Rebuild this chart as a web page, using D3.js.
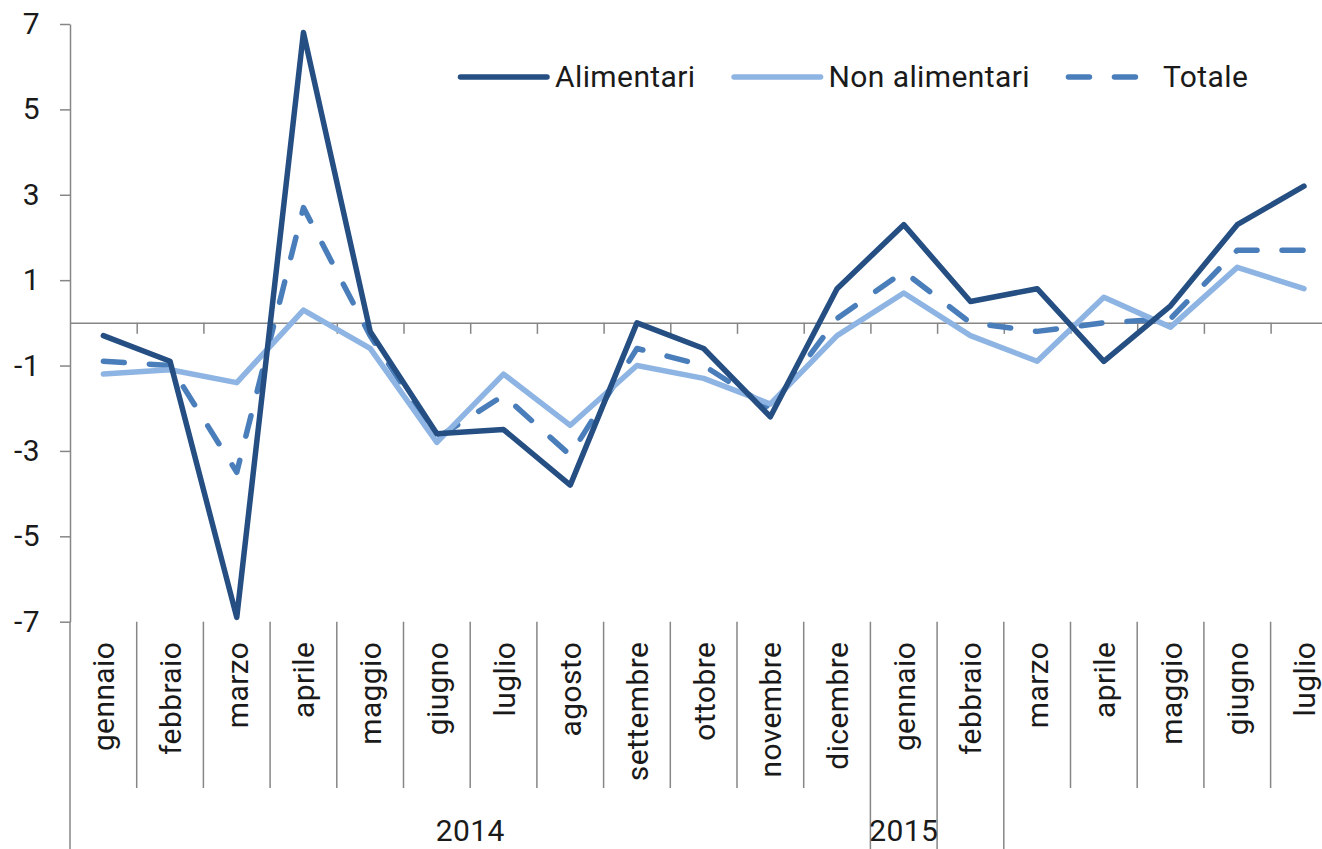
<!DOCTYPE html>
<html>
<head>
<meta charset="utf-8">
<script src="https://cdn.jsdelivr.net/npm/d3@7"></script>
<style>
  body { margin: 0; background: #fff; }
  text { font-family: Roboto, "Liberation Sans", sans-serif; fill: #1a1a1a; font-size: 30px; letter-spacing: 0.4px; }
  .axis path, .axis line { stroke: #868686; stroke-width: 1.5; }
</style>
</head>
<body>
<div id="chart"></div>
<script>
var months = ["gennaio", "febbraio", "marzo", "aprile", "maggio", "giugno", "luglio", "agosto",
  "settembre", "ottobre", "novembre", "dicembre", "gennaio", "febbraio", "marzo", "aprile",
  "maggio", "giugno", "luglio"];
// year groups on the second level of the category axis (index of first month)
var yearLabels = ["2014", "2015", "", ""];
var yearStarts = [0, 12, 13, 14];

var alimentari = [-0.3, -0.9, -6.9, 6.8, -0.2, -2.6, -2.5, -3.8, 0.0, -0.6, -2.2, 0.8, 2.3, 0.5, 0.8, -0.9, 0.4, 2.3, 3.2];
var nonAlimentari = [-1.2, -1.1, -1.4, 0.3, -0.6, -2.8, -1.2, -2.4, -1.0, -1.3, -1.9, -0.3, 0.7, -0.3, -0.9, 0.6, -0.1, 1.3, 0.8];
var totale = [-0.9, -1.0, -3.5, 2.7, -0.3, -2.7, -1.7, -3.1, -0.6, -1.0, -2.0, 0.1, 1.2, 0.0, -0.2, 0.0, 0.1, 1.7, 1.7];

var seriesNames = ["Alimentari", "Non alimentari", "Totale"];
var yTicks = [-7, -5, -3, -1, 1, 3, 5, 7];

var W = 1322, H = 849;
var margin = {left: 70, top: 24};
var band = 66.7;

var series = [
  {name: seriesNames[0], values: alimentari, color: "#254e82", dash: null},
  {name: seriesNames[1], values: nonAlimentari, color: "#8db4e2", dash: null},
  {name: seriesNames[2], values: totale, color: "#4a7ebb", dash: "21,25"}
];

var svg = d3.select("#chart").append("svg")
  .attr("width", W)
  .attr("height", H);

var x = d3.scaleBand()
  .domain(d3.range(months.length))
  .range([margin.left, margin.left + band * months.length]);
var xEdge = d3.scaleLinear()
  .domain([0, months.length])
  .range(x.range());
var y = d3.scaleLinear()
  .domain([-7, 7])
  .range([621.7, margin.top]);

// value axis
svg.append("g")
  .attr("class", "axis")
  .attr("transform", "translate(" + margin.left + ",0)")
  .call(d3.axisLeft(y).tickValues(yTicks).tickSize(10).tickSizeOuter(0).tickPadding(20)
    .tickFormat(function (d) { return String(d); }))
  .selectAll("text")
  .attr("font-size", null)
  .attr("font-family", null)
  .attr("fill", "#1a1a1a");

// category axis through zero
svg.append("g")
  .attr("class", "axis")
  .attr("transform", "translate(0," + y(0) + ")")
  .call(d3.axisBottom(xEdge).tickValues(d3.range(1, months.length + 1)).tickSize(11)
    .tickSizeOuter(0).tickFormat(""));

// label area below the plot
var labelTop = y(-7);
svg.append("line")
  .attr("x1", margin.left).attr("x2", margin.left)
  .attr("y1", labelTop).attr("y2", H)
  .attr("stroke", "#868686").attr("stroke-width", 1.5);

svg.append("g").selectAll("line")
  .data(d3.range(1, months.length + 1))
  .enter().append("line")
  .attr("x1", function (d) { return xEdge(d); })
  .attr("x2", function (d) { return xEdge(d); })
  .attr("y1", labelTop)
  .attr("y2", function (d) { return yearStarts.indexOf(d) > 0 ? H : 788; })
  .attr("stroke", "#868686").attr("stroke-width", 1.5);

svg.append("g").selectAll("text")
  .data(months)
  .enter().append("text")
  .attr("transform", function (d, i) {
    return "translate(" + (x(i) + x.bandwidth() / 2 + 11) + "," + (labelTop + 20) + ") rotate(-90)";
  })
  .attr("text-anchor", "end")
  .text(function (d) { return d; });

svg.append("g").selectAll("text")
  .data(yearLabels)
  .enter().append("text")
  .attr("x", function (d, i) {
    var end = i + 1 < yearStarts.length ? yearStarts[i + 1] : months.length;
    return (xEdge(yearStarts[i]) + xEdge(end)) / 2;
  })
  .attr("y", 841)
  .attr("text-anchor", "middle")
  .text(function (d) { return d; });

// lines
var line = d3.line()
  .x(function (d, i) { return x(i) + x.bandwidth() / 2; })
  .y(function (d) { return y(d); });

svg.append("g").selectAll("path")
  .data(series.slice().reverse())
  .enter().append("path")
  .attr("d", function (s) { return line(s.values); })
  .attr("fill", "none")
  .attr("stroke", function (s) { return s.color; })
  .attr("stroke-width", 5.5)
  .attr("stroke-linejoin", "round")
  .attr("stroke-linecap", "round")
  .attr("stroke-dasharray", function (s) { return s.dash; });

// legend
var legend = svg.append("g").attr("transform", "translate(458,77)");
var lx = 0;
series.forEach(function (s) {
  legend.append("line")
    .attr("x1", lx + 2.5).attr("x2", lx + 89)
    .attr("y1", 0).attr("y2", 0)
    .attr("stroke", s.color)
    .attr("stroke-width", 5.5)
    .attr("stroke-linecap", "round")
    .attr("stroke-dasharray", s.dash);
  var t = legend.append("text")
    .attr("x", lx + 97)
    .attr("y", 10)
    .text(s.name);
  lx += 97 + t.node().getComputedTextLength() + 36;
});
</script>
</body>
</html>
